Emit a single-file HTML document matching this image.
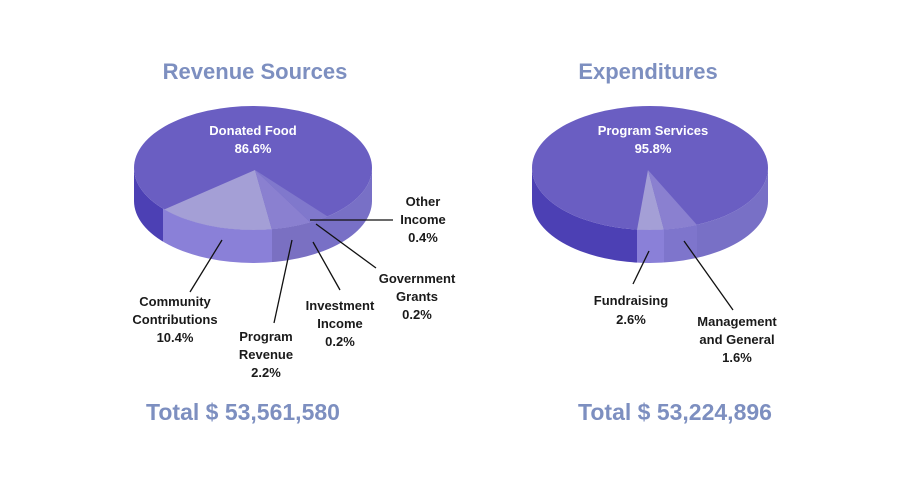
<!DOCTYPE html>
<html><head><meta charset="utf-8"><style>
html,body{margin:0;padding:0;background:#fff;}
svg{display:block;font-family:"Liberation Sans",sans-serif;}
.t{font-weight:bold;font-size:22px;fill:#7d8fc0;text-anchor:middle;}
.tt{font-weight:bold;font-size:23px;fill:#7d8fc0;text-anchor:middle;}
.l{font-weight:bold;font-size:13px;fill:#1a1a1a;text-anchor:middle;}
.w{font-weight:bold;font-size:13px;fill:#fff;text-anchor:middle;}
</style></head><body>
<svg width="910" height="479" viewBox="0 0 910 479">
<defs>
<clipPath id="s1"><path d="M134,168 L134,201 A119,62 0 0 0 372,201 L372,168 A119,62 0 0 1 134,168 Z"/></clipPath>
<clipPath id="t1"><ellipse cx="253" cy="168" rx="119" ry="62"/></clipPath>
<clipPath id="s2"><path d="M532,168 L532,201 A118,62 0 0 0 768,201 L768,168 A118,62 0 0 1 532,168 Z"/></clipPath>
<clipPath id="t2"><ellipse cx="650" cy="168" rx="118" ry="62"/></clipPath>
</defs>
<text class="t" x="255" y="79">Revenue Sources</text>
<text class="t" x="648" y="79">Expenditures</text>

<g clip-path="url(#s1)">
<rect x="120" y="150" width="43" height="130" fill="#4c40b4"/>
<rect x="163" y="150" width="109" height="130" fill="#8a80d8"/>
<rect x="272" y="150" width="38" height="130" fill="#7a70c2"/>
<rect x="310" y="150" width="70" height="130" fill="#7870c6"/>
</g>
<ellipse cx="253" cy="168" rx="119" ry="62" fill="#6a5ec2"/>
<g clip-path="url(#t1)">
<polygon points="255,170 71,250 289,290" fill="#a49fd6"/>
<polygon points="255,170 289,290 365,274" fill="#8a80d0"/>
<polygon points="255,170 365,274 380,250" fill="#8078cc"/>
</g>
<text class="w" x="253" y="135">Donated Food</text>
<text class="w" x="253" y="153">86.6%</text>
<g stroke="#111" stroke-width="1.3">
<line x1="222" y1="240" x2="190" y2="292"/>
<line x1="292" y1="240" x2="274" y2="323"/>
<line x1="313" y1="242" x2="340" y2="290"/>
<line x1="316" y1="224" x2="376" y2="268"/>
<line x1="310" y1="220" x2="393" y2="220"/>
</g>
<text class="l" x="423" y="206">Other</text><text class="l" x="423" y="224">Income</text><text class="l" x="423" y="242">0.4%</text>
<text class="l" x="417" y="283">Government</text><text class="l" x="417" y="301">Grants</text><text class="l" x="417" y="319">0.2%</text>
<text class="l" x="340" y="310">Investment</text><text class="l" x="340" y="328">Income</text><text class="l" x="340" y="346">0.2%</text>
<text class="l" x="266" y="341">Program</text><text class="l" x="266" y="359">Revenue</text><text class="l" x="266" y="377">2.2%</text>
<text class="l" x="175" y="306">Community</text><text class="l" x="175" y="324">Contributions</text><text class="l" x="175" y="342">10.4%</text>

<g clip-path="url(#s2)">
<rect x="520" y="150" width="117" height="130" fill="#4c40b4"/>
<rect x="637" y="150" width="27" height="130" fill="#8a80d8"/>
<rect x="664" y="150" width="33" height="130" fill="#7e75cc"/>
<rect x="697" y="150" width="80" height="130" fill="#7870c6"/>
</g>
<ellipse cx="650" cy="168" rx="118" ry="62" fill="#6a5ec2"/>
<g clip-path="url(#t2)">
<polygon points="648,170 626,290 680,290" fill="#a49fd6"/>
<polygon points="648,170 680,290 746,280" fill="#8a80d0"/>
</g>
<text class="w" x="653" y="135">Program Services</text>
<text class="w" x="653" y="153">95.8%</text>
<g stroke="#111" stroke-width="1.3">
<line x1="649" y1="251" x2="633" y2="284"/>
<line x1="684" y1="241" x2="733" y2="310"/>
</g>
<text class="l" x="631" y="305">Fundraising</text><text class="l" x="631" y="324">2.6%</text>
<text class="l" x="737" y="326">Management</text><text class="l" x="737" y="344">and General</text><text class="l" x="737" y="362">1.6%</text>

<text class="tt" x="243" y="420">Total $ 53,561,580</text>
<text class="tt" x="675" y="420">Total $ 53,224,896</text>
</svg>
</body></html>
